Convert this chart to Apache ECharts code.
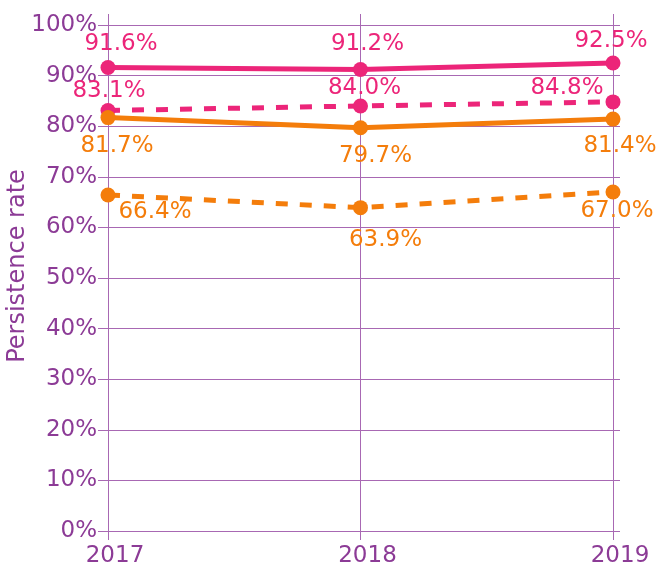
<!DOCTYPE html>
<html>
<head>
<meta charset="utf-8">
<script src="https://cdn.jsdelivr.net/npm/echarts@6/dist/echarts.min.js"></script>
<style>
  html, body { margin: 0; padding: 0; background: #fff; }
  #chart { width: 661px; height: 568px; }
</style>
</head>
<body>
<div id="chart"></div>
<script>
// Persistence rates by cohort year
const years = [2017, 2018, 2019];
const yTicks = [0, 10, 20, 30, 40, 50, 60, 70, 80, 90, 100];
const pinkSolid = [91.6, 91.2, 92.5];
const pinkDashed = [83.1, 84.0, 84.8];
const orangeSolid = [81.7, 79.7, 81.4];
const orangeDashed = [66.4, 63.9, 67.0];

const PINK = '#ec2579';
const ORANGE = '#f47d0b';
const PURPLE = '#8c3b96';
const GRIDLINE = '#a868b3';
const FONT = 'DejaVu Sans';

// label offsets from each marker centre: [dx, dy]
const labelShift = {
  pinkSolid:    [[13, -23], [7, -25], [-2, -22]],
  pinkDashed:   [[1, -19], [4, -18], [-46, -14]],
  orangeSolid:  [[9, 28], [15, 28], [7, 27]],
  orangeDashed: [[47, 17], [25, 32], [4, 19]]
};

function seriesData(vals, key) {
  return vals.map((v, i) => ({
    value: [years[i], v],
    label: { offset: labelShift[key][i] }
  }));
}

function lineSeries(name, vals, key, color, dashed) {
  return {
    name: name,
    type: 'line',
    xAxisIndex: 0,
    yAxisIndex: 0,
    data: seriesData(vals, key),
    symbol: 'circle',
    symbolSize: 15,
    lineStyle: { color: color, width: 5, type: dashed ? [12, 12] : 'solid', cap: 'butt' },
    itemStyle: { color: color },
    label: {
      show: true,
      position: 'inside',
      align: 'center',
      verticalAlign: 'middle',
      color: color,
      fontFamily: FONT,
      fontSize: 23,
      formatter: p => p.value[1].toFixed(1) + '%'
    },
    z: 5
  };
}

const span = years[years.length - 1] - years[0];
const chart = echarts.init(document.getElementById('chart'), null, { renderer: 'canvas' });

chart.setOption({
  animation: false,
  backgroundColor: '#ffffff',
  grid: [
    // plotting area with horizontal rules
    { left: 98, right: 41, top: 25, bottom: 37, outerBoundsMode: 'none', containLabel: false },
    // category rules and year labels
    { left: 108, right: 48, top: 14, bottom: 28, outerBoundsMode: 'none', containLabel: false }
  ],
  xAxis: [
    {
      gridIndex: 0,
      type: 'value',
      min: years[0] - span * 0.0198,
      max: years[years.length - 1] + span * 0.0139,
      show: false
    },
    {
      gridIndex: 1,
      type: 'category',
      data: years.map(String),
      boundaryGap: false,
      axisLine: { show: false },
      axisTick: { show: false },
      splitLine: { show: true, lineStyle: { color: GRIDLINE, width: 1 } },
      axisLabel: {
        color: PURPLE,
        fontFamily: FONT,
        fontSize: 23,
        margin: 5,
        padding: [0, 0, 0, 14]
      }
    }
  ],
  yAxis: [
    {
      gridIndex: 0,
      type: 'value',
      min: yTicks[0],
      max: yTicks[yTicks.length - 1],
      interval: 10,
      name: 'Persistence rate',
      nameLocation: 'middle',
      nameGap: 68,
      nameRotate: 90,
      nameMoveOverlap: false,
      nameTextStyle: { color: PURPLE, fontFamily: FONT, fontSize: 24, padding: [0, 0, 0, 24] },
      axisLine: { show: false },
      axisTick: { show: false },
      splitLine: { show: true, lineStyle: { color: GRIDLINE, width: 1 } },
      axisLabel: {
        color: PURPLE,
        fontFamily: FONT,
        fontSize: 23,
        margin: 1,
        padding: [0, 0, 6, 0],
        formatter: v => v + '%'
      }
    },
    {
      gridIndex: 1,
      type: 'value',
      show: false
    }
  ],
  series: [
    lineSeries('Pink solid', pinkSolid, 'pinkSolid', PINK, false),
    lineSeries('Pink dashed', pinkDashed, 'pinkDashed', PINK, true),
    lineSeries('Orange solid', orangeSolid, 'orangeSolid', ORANGE, false),
    lineSeries('Orange dashed', orangeDashed, 'orangeDashed', ORANGE, true)
  ]
});
</script>
</body>
</html>
